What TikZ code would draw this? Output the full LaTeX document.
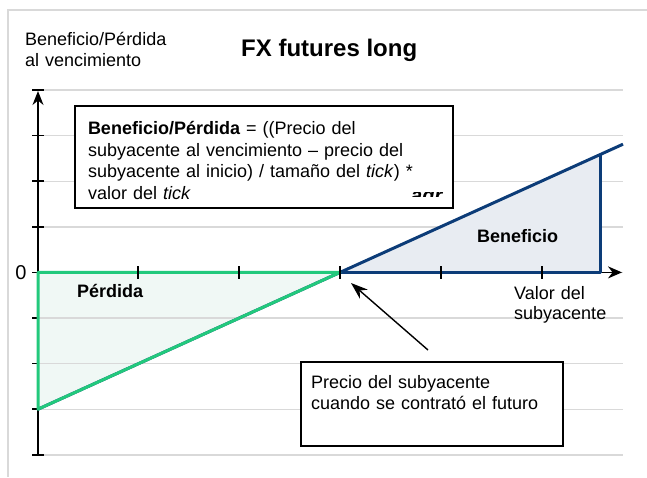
\documentclass[tikz,border=0pt]{standalone}
\usepackage{fontspec}
\setmainfont{Liberation Sans}
\usetikzlibrary{arrows.meta}
\definecolor{gridgray}{RGB}{217,217,217}
\definecolor{lossgreen}{RGB}{34,201,124}
\definecolor{lossfill}{RGB}{240,248,245}
\definecolor{profitblue}{RGB}{12,60,120}
\definecolor{profitfill}{RGB}{232,236,242}

\begin{document}
\begin{tikzpicture}[x=1pt, y=-1pt,
		gridline/.style={draw=gridgray, line width=1.4pt},
		axisline/.style={draw=black, line width=1.5pt},
		payoff/.style={line width=3pt, line join=round},
		lbl/.style={font=\fontsize{18}{21}\selectfont, inner sep=0pt},
		textbox/.style={lbl, draw, line width=1.6pt, fill=white, align=left},
		pointer/.style={line width=1.4pt, -{Stealth[length=17pt, width=12pt]}}
	]
		\useasboundingbox (0,0) rectangle (647,477);
		\draw[gridgray, line width=1.5pt] (647,10) -- (8,10) -- (8,477);

		\coordinate (O) at (38,272.4);
		\coordinate (S) at (340,272.4);
		\coordinate (L) at (38,409.2);
		\coordinate (E) at (600,272.4);
		\coordinate (P) at (600,155);
		\coordinate (Q) at (623,144.2);
		\coordinate (ytop) at (38,90);
		\coordinate (ybot) at (38,454.8);
		\coordinate (xtip) at (622,272.4);

		\fill[lossfill] (O) -- (S) -- (L) -- cycle;
		\foreach \i in {0,...,8}
			\draw[gridline] (38,90+45.6*\i) -- (623,90+45.6*\i);
		\fill[profitfill] (S) -- (E) -- (P) -- cycle;

		% axes
		\draw[axisline, -{Stealth[length=14pt, width=11pt]}] (ybot) -- ([yshift=-1pt]ytop);
		\foreach \i in {0,1,2,3,8}
			\draw[axisline] (32,90+45.6*\i) -- (44,90+45.6*\i);
		\foreach \i in {4,5,6,7}
			\draw[axisline] (32,90+45.6*\i) -- (38,90+45.6*\i);
		\draw[axisline, -{Stealth[length=14pt, width=12pt]}] (O) -- (xtip);

		% payoff
		\draw[payoff, profitblue] (L) -- (Q);
		\draw[payoff, profitblue] (S) -- (E) -- (P);
		\draw[payoff, lossgreen] (S) -- (O) -- (L) -- cycle;
		\foreach \x in {138,239,...,542}
			\draw[axisline] (\x,266) -- (\x,279);

		\draw (25,45) node[lbl, anchor=base west, text width=170pt, align=left] (ylabel) {Beneficio/Pérdida\\al vencimiento};
		\draw (241,56) node[lbl, anchor=base west, font=\fontsize{24}{28}\selectfont\bfseries] (title) {FX futures long};
		\draw (21,279) node[lbl, anchor=base, font=\fontsize{20}{24}\selectfont] (zero) {0};
		\draw (77,297) node[lbl, anchor=base west, font=\fontsize{18}{21}\selectfont\bfseries] (loss) {Pérdida};
		\draw (477,242) node[lbl, anchor=base west, font=\fontsize{18}{21}\selectfont\bfseries] (profit) {Beneficio};
		\draw (514,299) node[lbl, anchor=base west, text width=110pt, align=left, font=\fontsize{18}{20}\selectfont] (xlabel) {Valor del\\subyacente};

		\draw (264,157) node[textbox, minimum width=378pt, minimum height=102pt, text width=352pt, inner xsep=13pt, font=\fontsize{18}{21.5}\selectfont] (formula)
			{\rule{0pt}{20.5pt}\textbf{Beneficio/Pérdida} = ((Precio del\\subyacente al vencimiento – precio del\\subyacente al inicio) / tamaño del \textit{tick}) *\\valor del \textit{tick}};
		\begin{scope}
			\clip (405,192.5) rectangle (455,196);
			\draw (411,202.5) node[lbl, anchor=base west, font=\fontsize{20}{24}\selectfont\bfseries\itshape] (cutoff) {agr};
		\end{scope}

		\draw (432,404) node[textbox, minimum width=262pt, minimum height=84pt, text width=242pt, inner xsep=10pt] (callout)
			{Precio del subyacente\\cuando se contrató el futuro\rule[-24pt]{0pt}{24pt}};

		\coordinate (tail) at (428,350);
		\coordinate (tip) at (351,283);
		\draw[pointer] (tail) -- (tip);
	\end{tikzpicture}
\end{document}
